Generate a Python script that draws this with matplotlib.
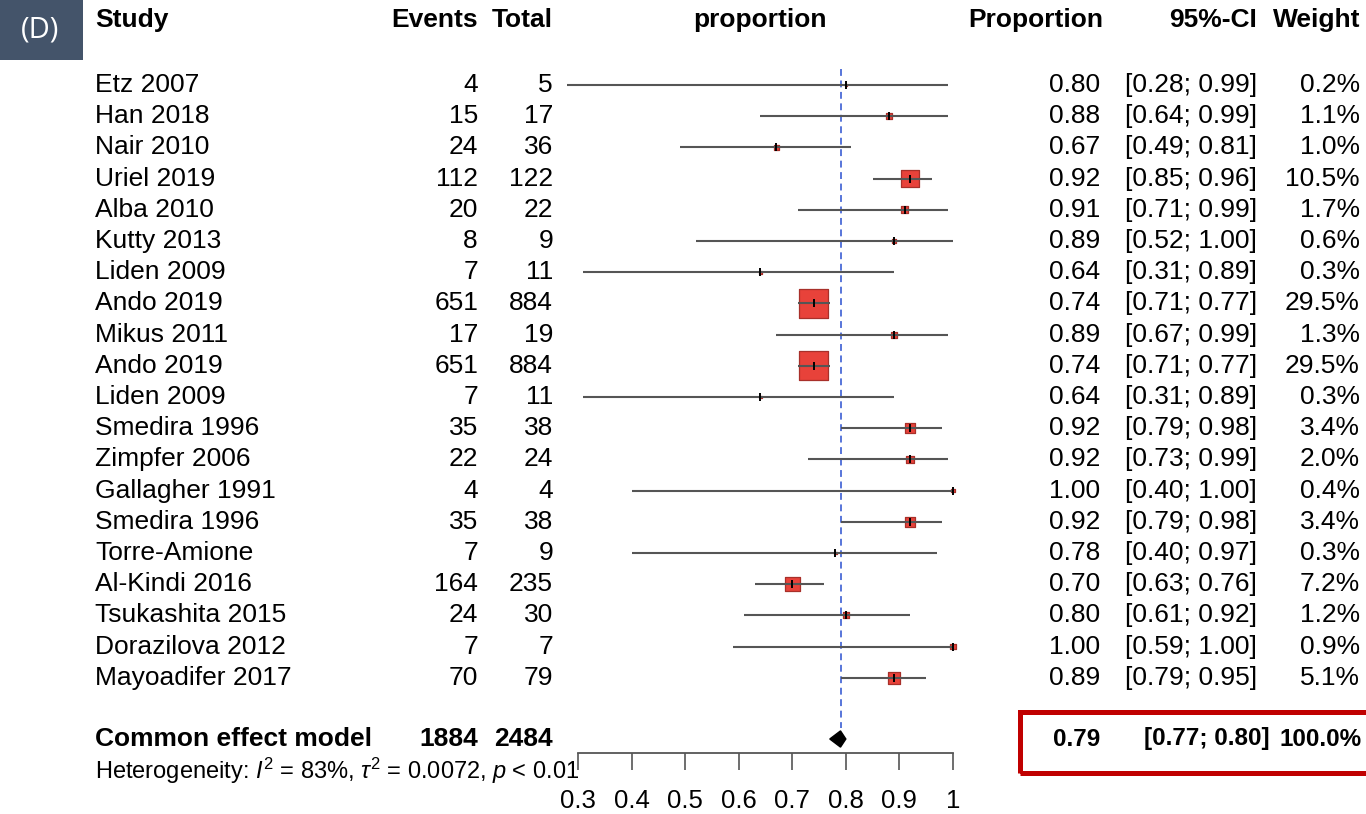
import numpy as np
import matplotlib
matplotlib.use("Agg")
from matplotlib import pyplot as plt
from matplotlib import transforms
from matplotlib.patches import Rectangle

plt.rcParams['font.family'] = ['Liberation Sans', 'DejaVu Sans']
plt.rcParams['mathtext.fontset'] = 'custom'
plt.rcParams['mathtext.rm'] = 'Liberation Sans'
plt.rcParams['mathtext.it'] = 'Liberation Sans:italic'

#各研究数据
studies = ["Etz 2007", "Han 2018", "Nair 2010", "Uriel 2019", "Alba 2010",
           "Kutty 2013", "Liden 2009", "Ando 2019", "Mikus 2011", "Ando 2019",
           "Liden 2009", "Smedira 1996", "Zimpfer 2006", "Gallagher 1991",
           "Smedira 1996", "Torre-Amione", "Al-Kindi 2016", "Tsukashita 2015",
           "Dorazilova 2012", "Mayoadifer 2017"]
events = [4, 15, 24, 112, 20, 8, 7, 651, 17, 651, 7, 35, 22, 4, 35, 7, 164, 24, 7, 70]
totals = [5, 17, 36, 122, 22, 9, 11, 884, 19, 884, 11, 38, 24, 4, 38, 9, 235, 30, 7, 79]
props = [0.80, 0.88, 0.67, 0.92, 0.91, 0.89, 0.64, 0.74, 0.89, 0.74,
         0.64, 0.92, 0.92, 1.00, 0.92, 0.78, 0.70, 0.80, 1.00, 0.89]
ci_low = [0.28, 0.64, 0.49, 0.85, 0.71, 0.52, 0.31, 0.71, 0.67, 0.71,
          0.31, 0.79, 0.73, 0.40, 0.79, 0.40, 0.63, 0.61, 0.59, 0.79]
ci_high = [0.99, 0.99, 0.81, 0.96, 0.99, 1.00, 0.89, 0.77, 0.99, 0.77,
           0.89, 0.98, 0.99, 1.00, 0.98, 0.97, 0.76, 0.92, 1.00, 0.95]
weights = [0.2, 1.1, 1.0, 10.5, 1.7, 0.6, 0.3, 29.5, 1.3, 29.5,
           0.3, 3.4, 2.0, 0.4, 3.4, 0.3, 7.2, 1.2, 0.9, 5.1]

#合并效应
common_label = "Common effect model"
common_events = 1884
common_total = 2484
common_prop = 0.79
common_low = 0.77
common_high = 0.80
common_weight = 100.0
hetero_text = r"Heterogeneity: $\mathit{I}^2$ = 83%, $\tau^2$ = 0.0072, $\mathit{p}$ < 0.01"

xticks = [0.3, 0.4, 0.5, 0.6, 0.7, 0.8, 0.9, 1.0]
xtick_labels = ["0.3", "0.4", "0.5", "0.6", "0.7", "0.8", "0.9", "1"]

W, H = 1366, 814
fig = plt.figure(figsize=(W / 100, H / 100), dpi=100)

#森林图区域：像素定位
x0_px, x1_px = 578, 953
row0_px, pitch = 85, 31.2
top_px, bot_px = 60, 753
ylo = (bot_px - row0_px) / pitch
yhi = (top_px - row0_px) / pitch
ax = fig.add_axes([x0_px / W, 1 - bot_px / H, (x1_px - x0_px) / W, (bot_px - top_px) / H])
ax.set_xlim(0.3, 1.0)
ax.set_ylim(ylo, yhi)
for s in ['top', 'left', 'right']:
    ax.spines[s].set_visible(False)
ax.spines['bottom'].set_color('#555555')
ax.spines['bottom'].set_linewidth(1.3)
ax.set_yticks([])
ax.set_xticks(xticks)
ax.set_xticklabels(xtick_labels, fontsize=18.5)
ax.tick_params(axis='x', direction='out', length=12, width=1.2, color='#555555', pad=14)

rows = np.arange(len(studies))
sum_row = (739 - row0_px) / pitch
het_row = (771 - row0_px) / pitch
head_row = (20 - row0_px) / pitch

#参考虚线
ax.plot([common_prop, common_prop], [yhi + 0.3, sum_row - 0.35], color='#2a4fd0',
        linestyle=(0, (4.5, 3)), linewidth=1.1, zorder=1, clip_on=False)

#方块（面积与权重成正比）
sizes = [15.0 * w for w in weights]
ax.scatter(props, rows, s=sizes, marker='s', color='#e8423a', edgecolors='#a8302a',
           linewidths=0.9, zorder=2, clip_on=False)
#置信区间
for i in range(len(studies)):
    ax.plot([ci_low[i], ci_high[i]], [rows[i], rows[i]], color='#555555', linewidth=1.5,
            zorder=3, solid_capstyle='butt', clip_on=False)
ax.scatter(props, rows, s=32, marker='|', color='black', linewidths=1.4, zorder=4, clip_on=False)

#合并效应菱形
ax.fill([common_low, common_prop, common_high, common_prop],
        [sum_row, sum_row - 0.26, sum_row, sum_row + 0.26], color='black', zorder=4, clip_on=False)

#文字列
tr = transforms.blended_transform_factory(fig.transFigure, ax.transData)
fs = 19
def col(px):
    return px / W

ax.text(col(95), head_row, "Study", transform=tr, fontsize=fs, fontweight='bold', ha='left', va='center')
ax.text(col(478), head_row, "Events", transform=tr, fontsize=fs, fontweight='bold', ha='right', va='center')
ax.text(col(553), head_row, "Total", transform=tr, fontsize=fs, fontweight='bold', ha='right', va='center')
ax.text(col(760), head_row, "proportion", transform=tr, fontsize=fs, fontweight='bold', ha='center', va='center')
ax.text(col(1103), head_row, "Proportion", transform=tr, fontsize=fs, fontweight='bold', ha='right', va='center')
ax.text(col(1257), head_row, "95%-CI", transform=tr, fontsize=fs, fontweight='bold', ha='right', va='center')
ax.text(col(1360), head_row, "Weight", transform=tr, fontsize=fs, fontweight='bold', ha='right', va='center')

for i in range(len(studies)):
    y = rows[i]
    ax.text(col(95), y, studies[i], transform=tr, fontsize=fs, ha='left', va='center')
    ax.text(col(478), y, str(events[i]), transform=tr, fontsize=fs, ha='right', va='center')
    ax.text(col(553), y, str(totals[i]), transform=tr, fontsize=fs, ha='right', va='center')
    ax.text(col(1100), y, f"{props[i]:.2f}", transform=tr, fontsize=fs, ha='right', va='center')
    ax.text(col(1257), y, f"[{ci_low[i]:.2f}; {ci_high[i]:.2f}]", transform=tr, fontsize=fs, ha='right', va='center')
    ax.text(col(1360), y, f"{weights[i]:.1f}%", transform=tr, fontsize=fs, ha='right', va='center')

fs_sum = 17.5
ax.text(col(95), sum_row, common_label, transform=tr, fontsize=fs, fontweight='bold', ha='left', va='center')
ax.text(col(478), sum_row, str(common_events), transform=tr, fontsize=fs, fontweight='bold', ha='right', va='center')
ax.text(col(553), sum_row, str(common_total), transform=tr, fontsize=fs, fontweight='bold', ha='right', va='center')
ax.text(col(1100), sum_row, f"{common_prop:.2f}", transform=tr, fontsize=fs_sum, fontweight='bold', ha='right', va='center')
ax.text(col(1270), sum_row, f"[{common_low:.2f}; {common_high:.2f}]", transform=tr, fontsize=fs_sum, fontweight='bold', ha='right', va='center')
ax.text(col(1362), sum_row, f"{common_weight:.1f}%", transform=tr, fontsize=fs_sum, fontweight='bold', ha='right', va='center')
ax.text(col(95), het_row, hetero_text, transform=tr, fontsize=17, ha='left', va='center')

#红框与(D)标签
fig.patches.append(Rectangle((1020 / W, 1 - 773 / H), 350 / W, 61 / H, transform=fig.transFigure,
                             fill=False, edgecolor='#c00000', linewidth=3.6))
fig.patches.append(Rectangle((0, 1 - 60 / H), 83 / W, 60 / H, transform=fig.transFigure,
                             facecolor='#44546a', edgecolor='none'))
fig.text(40 / W, 1 - 30 / H, "(D)", color='white', fontsize=21, ha='center', va='center',
         family=['Open Sans', 'DejaVu Sans'])

fig.savefig("out.png", dpi=100)
